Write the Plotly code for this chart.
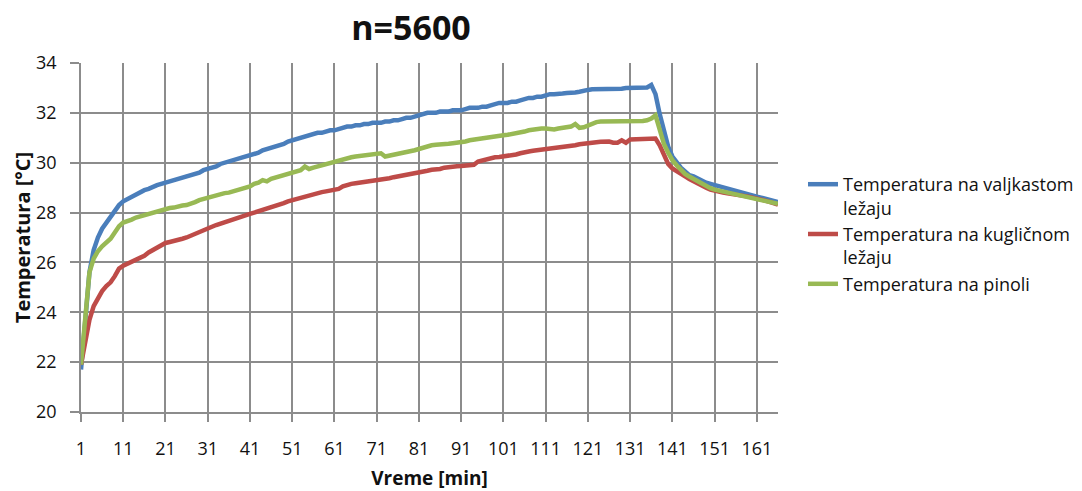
import plotly.graph_objects as go

minutes = list(range(1, 167))

t_valjkasto = [
    21.7, 23.8, 25.6, 26.5, 27.0, 27.35, 27.6, 27.85, 28.1, 28.3,
    28.45, 28.55, 28.65, 28.75, 28.85, 28.9, 28.95, 29.05, 29.1, 29.15,
    29.2, 29.25, 29.3, 29.35, 29.4, 29.45, 29.5, 29.55, 29.6, 29.7,
    29.75, 29.8, 29.85, 29.95, 30.0, 30.05, 30.1, 30.15, 30.2, 30.25,
    30.3, 30.35, 30.4, 30.5, 30.55, 30.6, 30.65, 30.7, 30.75, 30.85,
    30.9, 30.95, 31.0, 31.05, 31.1, 31.15, 31.2, 31.2, 31.25, 31.3,
    31.3, 31.35, 31.4, 31.45, 31.45, 31.5, 31.5, 31.55, 31.55, 31.6,
    31.6, 31.6, 31.65, 31.65, 31.7, 31.7, 31.75, 31.8, 31.8, 31.85,
    31.9, 31.95, 32.0, 32.0, 32.0, 32.05, 32.05, 32.05, 32.1, 32.1,
    32.1, 32.15, 32.2, 32.2, 32.2, 32.25, 32.25, 32.3, 32.35, 32.4,
    32.4, 32.4, 32.45, 32.45, 32.5, 32.55, 32.6, 32.6, 32.65, 32.65,
    32.7, 32.75, 32.75, 32.75, 32.78, 32.8, 32.8, 32.82, 32.85, 32.9,
    32.92, 32.95, 32.95, 32.95, 32.97, 32.97, 32.95, 32.97, 32.97, 33.0,
    33.0, 33.0, 33.0, 33.0, 33.02, 33.12, 32.75, 31.95, 31.2, 30.65,
    30.25, 30.0, 29.8, 29.65, 29.5, 29.45, 29.35, 29.3, 29.2, 29.15,
    29.1, 29.05, 29.0, 28.97, 28.92, 28.85, 28.8, 28.78, 28.72, 28.68,
    28.64, 28.6, 28.55, 28.5, 28.45, 28.42,
]

t_kuglicno = [
    21.9, 22.8, 23.7, 24.25, 24.6, 24.85, 25.05, 25.2, 25.45, 25.75,
    25.87, 25.95, 26.03, 26.1, 26.18, 26.27, 26.4, 26.5, 26.6, 26.7,
    26.78, 26.82, 26.85, 26.9, 26.95, 27.0, 27.08, 27.15, 27.22, 27.3,
    27.37, 27.43, 27.5, 27.56, 27.62, 27.68, 27.75, 27.8, 27.85, 27.9,
    27.95, 28.0, 28.05, 28.1, 28.15, 28.22, 28.27, 28.32, 28.38, 28.45,
    28.5, 28.55, 28.6, 28.65, 28.68, 28.72, 28.77, 28.82, 28.85, 28.87,
    28.9, 28.95, 29.05, 29.12, 29.15, 29.18, 29.2, 29.22, 29.25, 29.27,
    29.3, 29.33, 29.35, 29.38, 29.42, 29.45, 29.48, 29.5, 29.53, 29.55,
    29.58, 29.62, 29.68, 29.72, 29.73, 29.75, 29.8, 29.83, 29.85, 29.86,
    29.87, 29.88, 29.9, 29.92, 30.05, 30.1, 30.15, 30.2, 30.22, 30.23,
    30.25, 30.27, 30.3, 30.33, 30.38, 30.43, 30.45, 30.48, 30.5, 30.51,
    30.53, 30.57, 30.6, 30.62, 30.64, 30.66, 30.68, 30.7, 30.74, 30.77,
    30.78, 30.8, 30.82, 30.84, 30.85, 30.85, 30.8, 30.8, 30.9, 30.8,
    30.93, 30.93, 30.93, 30.94, 30.94, 30.95, 30.97, 30.7, 30.3, 29.95,
    29.77, 29.65, 29.55, 29.45, 29.35, 29.25, 29.18, 29.1, 29.0, 28.92,
    28.87, 28.83, 28.8, 28.77, 28.75, 28.73, 28.71, 28.68, 28.64, 28.6,
    28.57, 28.53, 28.48, 28.43, 28.38, 28.32,
]

t_pinoli = [
    21.9, 24.0, 25.6, 26.15, 26.45, 26.65, 26.8, 26.95, 27.2, 27.45,
    27.6, 27.65, 27.72, 27.8, 27.85, 27.92, 27.97, 28.0, 28.05, 28.1,
    28.15, 28.18, 28.2, 28.25, 28.28, 28.3, 28.35, 28.42, 28.5, 28.55,
    28.6, 28.65, 28.7, 28.75, 28.78, 28.8, 28.85, 28.9, 28.95, 29.0,
    29.05, 29.15, 29.2, 29.3, 29.25, 29.35, 29.4, 29.45, 29.5, 29.55,
    29.6, 29.65, 29.7, 29.85, 29.75, 29.8, 29.85, 29.9, 29.95, 30.0,
    30.05, 30.1, 30.15, 30.2, 30.22, 30.25, 30.27, 30.28, 30.3, 30.3,
    30.32, 30.38, 30.25, 30.28, 30.32, 30.37, 30.4, 30.42, 30.45, 30.5,
    30.55, 30.6, 30.68, 30.7, 30.72, 30.72, 30.74, 30.76, 30.78, 30.8,
    30.8, 30.85, 30.9, 30.93, 30.95, 30.97, 31.0, 31.05, 31.08, 31.1,
    31.1, 31.12, 31.15, 31.15, 31.2, 31.25, 31.3, 31.33, 31.35, 31.37,
    31.37, 31.35, 31.33, 31.37, 31.4, 31.42, 31.45, 31.55, 31.4, 31.42,
    31.5, 31.58, 31.63, 31.65, 31.65, 31.65, 31.65, 31.67, 31.65, 31.64,
    31.64, 31.65, 31.66, 31.67, 31.7, 31.77, 31.9, 31.3, 30.75, 30.4,
    30.1, 29.9, 29.7, 29.55, 29.45, 29.35, 29.25, 29.15, 29.05, 28.98,
    28.92, 28.88, 28.85, 28.8, 28.75, 28.72, 28.68, 28.64, 28.6, 28.55,
    28.51, 28.48, 28.45, 28.42, 28.38, 28.35,
]

series_names = [
    "Temperatura na valjkastom<br>ležaju",
    "Temperatura na kugličnom<br>ležaju",
    "Temperatura na pinoli",
]
series_values = [t_valjkasto, t_kuglicno, t_pinoli]
series_colors = ["#4A7EBB", "#BE4B48", "#98B954"]

title_text = "n=5600"
x_title = "Vreme [min]"
y_title = "Temperatura [°C]"
y_ticks = [20, 22, 24, 26, 28, 30, 32, 34]
x_ticks = list(range(1, 167, 10))

FONT = "Open Sans"
GRID = "#8c8c8c"

fig = go.Figure()
for name, vals, col in zip(series_names, series_values, series_colors):
    fig.add_trace(go.Scatter(
        x=minutes, y=vals, name=name, mode="lines",
        line=dict(color=col, width=4.5),
    ))

fig.update_layout(
    width=1082, height=491,
    paper_bgcolor="white", plot_bgcolor="white",
    margin=dict(l=81, r=304, t=63, b=79, autoexpand=False),
    font=dict(family=FONT, size=18, color="#111111"),
    title=dict(
        text="<b>" + title_text + "</b>",
        font=dict(family=FONT, size=34, color="#111111"),
        x=(411 - 81) / 697, xref="paper", xanchor="center",
        y=1 - 28 / 491, yref="container", yanchor="middle",
    ),
    legend=dict(
        x=(803 - 81) / 697, xanchor="left",
        y=(412 - 166) / 349, yanchor="top",
        font=dict(family=FONT, size=18, color="#111111"),
        valign="top", tracegroupgap=5,
        bgcolor="rgba(0,0,0,0)",
    ),
    showlegend=True,
)

fig.update_xaxes(
    range=[1, 166], tickmode="array", tickvals=x_ticks,
    ticktext=[str(v) for v in x_ticks],
    showgrid=True, gridcolor=GRID, gridwidth=1.5,
    showline=True, linecolor=GRID, linewidth=1.5,
    ticks="outside", ticklen=8, tickcolor=GRID, tickwidth=1.5,
    ticklabelstandoff=12,
    zeroline=False,
    title=dict(text="<b>" + x_title + "</b>", font=dict(family=FONT, size=19), standoff=15),
    tickfont=dict(family=FONT, size=18, color="#111111"),
)
fig.update_yaxes(
    range=[20, 34], tickmode="array", tickvals=y_ticks,
    showgrid=True, gridcolor=GRID, gridwidth=1.5,
    showline=True, linecolor=GRID, linewidth=1.5,
    ticks="outside", ticklen=9, tickcolor=GRID, tickwidth=1.5,
    ticklabelstandoff=10,
    zeroline=False,
    title=dict(text="<b>" + y_title + "</b>", font=dict(family=FONT, size=20), standoff=0),
    tickfont=dict(family=FONT, size=18, color="#111111"),
)

fig.write_html(
    "out.html",
    config={"displayModeBar": False},
    post_script="document.body.style.margin='0';document.body.style.overflow='hidden';",
)
